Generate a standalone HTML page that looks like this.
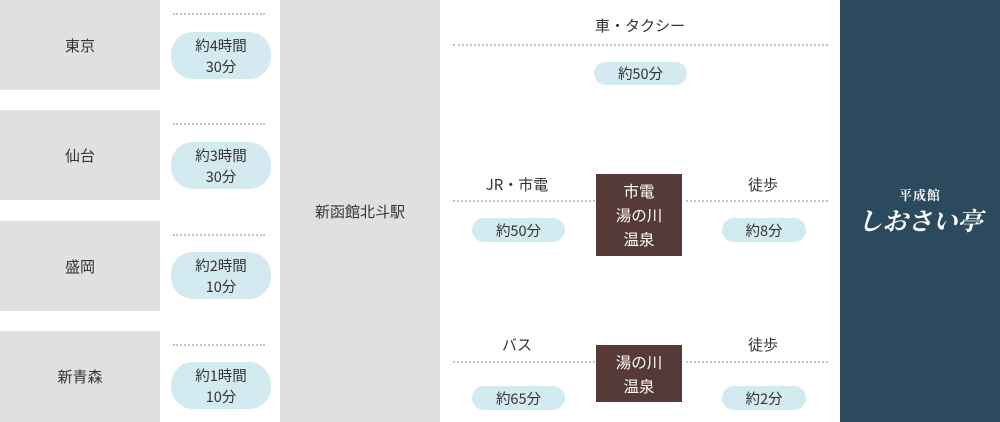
<!DOCTYPE html>
<html><head><meta charset="utf-8"><style>
body{margin:0;width:1000px;height:422px;background:#fff;position:relative;overflow:hidden;font-family:"Noto Sans CJK JP","Liberation Sans",sans-serif;color:#333;font-size:15px}
div{position:absolute;box-sizing:border-box}
.g{background:#e0e0e0;display:flex;align-items:center;justify-content:center}
.p{background:#d4eaf1;border-radius:22px;display:flex;align-items:center;justify-content:center;text-align:center;line-height:21px;font-size:14.5px}
.d{border-top:2px dotted #c4c4c4;height:0}
.t{text-align:center;font-size:15px}
.b{background:#553a38;color:#fff;text-align:center;line-height:24px;font-size:15.5px;display:flex;align-items:center;justify-content:center}
</style></head><body>
<div class="g" style="left:0;top:0;width:160px;height:90px">東京</div>
<div class="g" style="left:0;top:110px;width:160px;height:90px">仙台</div>
<div class="g" style="left:0;top:221px;width:160px;height:90px">盛岡</div>
<div class="g" style="left:0;top:331px;width:160px;height:91px">新青森</div>
<div class="d" style="left:173px;top:13px;width:92px"></div>
<div class="d" style="left:173px;top:123px;width:92px"></div>
<div class="d" style="left:173px;top:234px;width:92px"></div>
<div class="d" style="left:173px;top:344px;width:92px"></div>
<div class="p" style="left:171px;top:32px;width:100px;height:47px">約4時間<br>30分</div>
<div class="p" style="left:171px;top:142px;width:100px;height:47px">約3時間<br>30分</div>
<div class="p" style="left:171px;top:252px;width:100px;height:47px">約2時間<br>10分</div>
<div class="p" style="left:171px;top:362px;width:100px;height:47px">約1時間<br>10分</div>
<div class="g" style="left:280px;top:0;width:160px;height:422px">新函館北斗駅</div>
<div class="t" style="left:540px;top:15px;width:200px">車・タクシー</div>
<div class="d" style="left:453px;top:44px;width:375px"></div>
<div class="p" style="left:594px;top:62px;width:93px;height:23px">約50分</div>
<div class="t" style="left:457px;top:174px;width:120px">JR・市電</div>
<div class="d" style="left:453px;top:200px;width:142px"></div>
<div class="b" style="left:596px;top:174px;width:86px;height:82px">市電<br>湯の川<br>温泉</div>
<div class="d" style="left:686px;top:200px;width:142px"></div>
<div class="t" style="left:723px;top:174px;width:80px">徒歩</div>
<div class="p" style="left:472px;top:218px;width:93px;height:24px">約50分</div>
<div class="p" style="left:722px;top:218px;width:84px;height:24px">約8分</div>
<div class="t" style="left:457px;top:334px;width:120px">バス</div>
<div class="d" style="left:453px;top:361px;width:142px"></div>
<div class="b" style="left:596px;top:345px;width:86px;height:57px">湯の川<br>温泉</div>
<div class="d" style="left:686px;top:361px;width:142px"></div>
<div class="t" style="left:723px;top:334px;width:80px">徒歩</div>
<div class="p" style="left:472px;top:386px;width:93px;height:24px">約65分</div>
<div class="p" style="left:722px;top:386px;width:84px;height:24px">約2分</div>
<div style="left:840px;top:0;width:160px;height:422px;background:#2c4a5e"></div>
<div style="left:840px;top:185px;width:160px;text-align:center;color:#fff;font-family:'Noto Serif CJK SC',serif;font-weight:bold;font-size:13px;letter-spacing:1px">平成館</div>
<div style="left:840px;top:202px;width:160px;text-align:center;color:#fff;font-family:'Noto Serif CJK SC',serif;font-weight:bold;font-size:25px;font-style:italic">しおさい亭</div>
</body></html>
